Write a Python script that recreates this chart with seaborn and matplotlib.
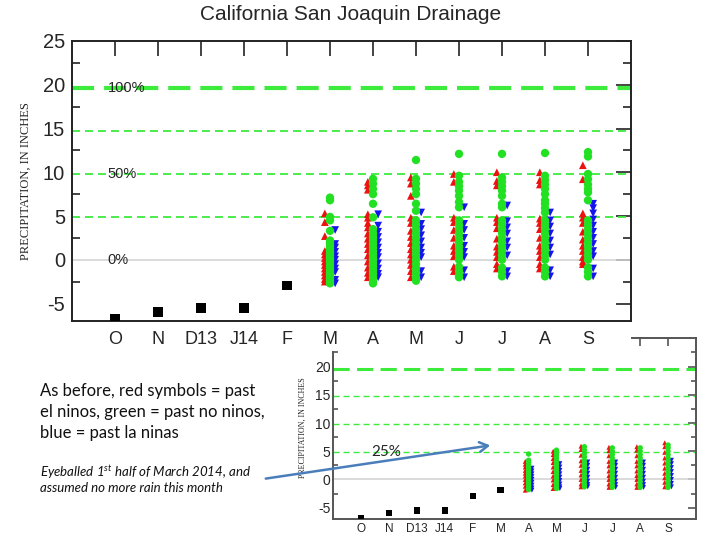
import matplotlib
matplotlib.use("Agg")
import matplotlib.pyplot as plt
import numpy as np
import pandas as pd
import seaborn as sns
from matplotlib.patches import FancyArrowPatch
from matplotlib.ticker import MultipleLocator, FixedLocator

# ---------------- data ----------------
months = ["O", "N", "D13", "J14", "F", "M", "A", "M", "J", "J", "A", "S"]
pct_levels = [19.6, 14.7, 9.8, 4.9]

main_obs = [-6.8, -5.95, -5.5, -5.5, -2.95]
inset_obs = [-6.8, -5.95, -5.5, -5.5, -2.95, -1.9]

main_start = 5  # first projected month (M)
main_green = [
    [7.1, 6.8, 4.9, 4.5, 3.3, 2.2, 1.9, 1.6, 1.3, 1.0, 0.8, 0.5, 0.2, 0.0, -0.3, -0.6, -0.9, -1.2, -1.5, -1.8, -2.1, -2.4, -2.7],
    [9.25, 8.7, 8.1, 7.5, 6.4, 4.85, 3.5, 3.0, 2.6, 2.2, 1.8, 1.4, 1.0, 0.6, 0.3, 0.0, -0.4, -0.8, -1.2, -1.6, -2.0, -2.4, -2.7],
    [11.4, 9.25, 8.7, 8.1, 7.5, 6.4, 5.6, 4.5, 4.0, 3.5, 3.0, 2.5, 2.0, 1.5, 1.0, 0.5, 0.0, -0.5, -1.0, -1.5, -2.0, -2.4],
    [12.1, 9.6, 8.9, 8.4, 7.9, 7.3, 6.6, 6.0, 4.5, 4.0, 3.5, 3.0, 2.5, 2.0, 1.5, 1.0, 0.5, 0.0, -0.8, -1.3, -1.8, -2.0],
    [12.1, 9.4, 8.9, 8.4, 7.9, 7.3, 6.4, 6.0, 4.5, 4.0, 3.5, 3.0, 2.5, 2.0, 1.5, 1.0, 0.5, 0.0, -0.9, -1.4, -1.9],
    [12.2, 9.6, 9.1, 8.6, 8.1, 7.5, 6.8, 6.4, 5.9, 5.4, 4.5, 4.0, 3.5, 3.0, 2.5, 2.0, 1.5, 1.0, 0.5, 0.0, -0.9, -1.4, -1.9],
    [12.3, 11.8, 9.8, 9.2, 8.6, 8.1, 7.7, 6.8, 4.5, 4.0, 3.5, 3.0, 2.5, 2.0, 1.5, 1.0, 0.5, 0.0, -0.9, -1.4, -1.9],
]
main_red = [
    [5.3, 4.3, 2.7, 1.0, 0.6, 0.2, -0.2, -0.6, -1.0, -1.4, -1.8, -2.2, -2.5],
    [8.9, 8.5, 8.0, 5.2, 4.8, 4.2, 3.7, 3.0, 2.4, 1.8, 1.2, 0.5, -0.2, -0.9, -1.5, -2.0],
    [9.4, 8.7, 7.3, 4.8, 4.2, 3.3, 2.6, 1.9, 1.2, 0.6, 0.0, -0.6, -1.3, -2.0],
    [9.8, 8.9, 4.8, 4.3, 3.4, 2.5, 1.6, 1.0, 0.4, -0.8, -1.3],
    [10.0, 9.0, 8.5, 4.8, 4.3, 3.6, 2.4, 1.5, 0.9, 0.3, -0.5, -1.0],
    [10.0, 9.1, 8.6, 4.7, 4.2, 3.5, 2.5, 1.6, 1.0, 0.3, -0.5, -1.0],
    [10.8, 9.2, 5.3, 4.8, 4.2, 3.2, 2.3, 1.6, 1.0, 0.3, -0.2, -0.5],
]
main_blue = [
    [3.4, 1.8, 1.4, 0.9, 0.4, 0.0, -0.5, -1.0, -1.4, -2.3, -2.7],
    [5.2, 3.9, 3.2, 2.6, 2.0, 1.4, 0.8, 0.3, -0.4, -1.0, -1.6, -2.0],
    [5.4, 4.1, 3.5, 2.8, 2.1, 1.4, 0.8, 0.3, -1.3, -2.0],
    [6.0, 4.1, 3.4, 2.5, 1.6, 0.9, 0.3, -1.2, -2.0],
    [6.2, 4.4, 3.7, 3.0, 2.1, 1.4, 0.5, -1.3, -1.9],
    [5.4, 4.5, 3.8, 3.0, 2.2, 1.4, 0.6, -1.2, -1.9],
    [6.4, 5.9, 5.3, 4.6, 3.9, 3.2, 2.5, 1.8, 1.0, 0.4, -1.0, -1.9],
]

inset_start = 6  # first projected month (A)
inset_green = [
    [4.5, 3.4, 3.0, 2.6, 2.2, 1.8, 1.4, 1.0, 0.6, 0.2, -0.2, -0.6, -1.0, -1.4, -1.8],
    [5.2, 4.8, 4.3, 3.8, 3.3, 2.8, 2.3, 1.8, 1.3, 0.8, 0.3, -0.2, -0.7, -1.2, -1.6],
    [5.8, 5.2, 4.6, 4.0, 3.4, 2.8, 2.2, 1.6, 1.0, 0.4, -0.2, -0.8, -1.3],
    [5.6, 5.0, 4.4, 3.8, 3.2, 2.6, 2.0, 1.4, 0.8, 0.2, -0.4, -1.0, -1.4],
    [5.6, 5.0, 4.4, 3.8, 3.2, 2.6, 2.0, 1.4, 0.8, 0.2, -0.4, -1.0, -1.4],
    [6.1, 5.6, 5.0, 4.4, 3.8, 3.2, 2.6, 2.0, 1.4, 0.8, 0.2, -0.4, -1.0, -1.4],
]
inset_red = [
    [3.2, 2.7, 2.2, 1.6, 1.1, 0.6, 0.0, -0.6, -1.2, -1.9],
    [5.0, 4.4, 3.7, 3.0, 2.2, 1.4, 0.6, -0.1, -0.9, -1.6],
    [5.9, 5.3, 4.3, 3.3, 2.5, 1.6, 0.8, 0.0, -0.8, -1.3],
    [5.7, 5.1, 4.2, 3.2, 2.4, 1.5, 0.7, 0.0, -0.8, -1.4],
    [5.8, 5.2, 4.2, 3.2, 2.4, 1.5, 0.7, 0.0, -0.8, -1.4],
    [6.5, 5.8, 4.8, 3.8, 2.9, 2.0, 1.1, 0.3, -0.5, -1.3],
]
inset_blue = [
    [2.0, 1.5, 1.0, 0.5, 0.0, -0.5, -1.0, -1.5, -1.9],
    [2.8, 2.2, 1.6, 1.0, 0.4, -0.2, -0.8, -1.3, -1.6],
    [3.1, 2.5, 1.8, 1.1, 0.4, -0.3, -0.9, -1.3],
    [3.1, 2.5, 1.8, 1.1, 0.4, -0.3, -0.9, -1.4],
    [3.1, 2.5, 1.8, 1.1, 0.4, -0.3, -0.9, -1.4],
    [3.4, 2.8, 2.1, 1.4, 0.7, 0.0, -0.7, -1.3],
]

# ---------------- style ----------------
sns.set_style("white")
plt.rcParams["font.family"] = ["Liberation Sans", "DejaVu Sans"]
plt.rcParams["axes.unicode_minus"] = False
plt.rcParams["mathtext.fontset"] = "custom"
plt.rcParams["mathtext.it"] = "Lato:italic"
plt.rcParams["mathtext.rm"] = "Lato:italic"

GREEN = "#22e022"
RED = "#ee1111"
BLUE = "#1414ee"
LINE_G = "#3ceb3c"


def long_df(groups, start):
    rows = []
    for name, lists in groups:
        for i, vals in enumerate(lists):
            for v in vals:
                rows.append((start + i, v, name))
    return pd.DataFrame(rows, columns=["m", "v", "group"])


def draw_panel(ax, obs, df, sq_size, pt_size, dash_lw, thin_lw, tick_major, tick_minor,
               xfs, yfs, spine_color):
    ax.set_xlim(-1, 12)
    ax.set_ylim(-7, 25)
    ax.axhline(0, color="#d4d4d4", lw=1.2, zorder=1)
    for k, lvl in enumerate(pct_levels):
        if k == 0:
            ax.axhline(lvl, color=LINE_G, lw=dash_lw, dashes=(5.3, 2.4), zorder=1)
        else:
            ax.axhline(lvl, color=LINE_G, lw=thin_lw, dashes=(4.4, 2.8), zorder=1)
    obs_df = pd.DataFrame({"m": np.arange(len(obs)), "v": obs})
    sns.scatterplot(data=obs_df, x="m", y="v", marker="s", color="black", s=sq_size,
                    edgecolor="none", ax=ax, zorder=3, legend=False)
    specs = [("red", "^", RED, -0.12, 0.85), ("blue", "v", BLUE, 0.12, 0.85), ("green", "o", GREEN, 0.0, 1.0)]
    for name, mk, col, off, sc in specs:
        sub = df[df.group == name]
        sns.scatterplot(x=sub.m + off, y=sub.v, marker=mk, color=col, s=pt_size * sc,
                        edgecolor="none", ax=ax, zorder=3, legend=False)
    ax.set_xlabel("")
    ax.set_ylabel("")
    ax.xaxis.set_major_locator(FixedLocator(range(12)))
    ax.set_xticklabels(months)
    ax.tick_params(axis="both", which="major", direction="in", length=tick_major, width=1.2,
                   top=True, right=True, color=spine_color)
    ax.tick_params(axis="y", which="minor", direction="in", length=tick_minor, width=1.2,
                   left=True, right=True, color=spine_color)
    ax.tick_params(axis="x", labelsize=xfs)
    ax.tick_params(axis="y", labelsize=yfs)
    for s in ax.spines.values():
        s.set_color(spine_color)
        s.set_linewidth(1.4)


fig = plt.figure(figsize=(7.2, 5.4), dpi=100)
W, H = 720.0, 540.0

# ---- inset (the pasted smaller chart, partly covered by the main chart image) ----
ax2 = fig.add_axes([333.3 / W, 1 - 519 / H, (696 - 333.3) / W, (519 - 338.3) / H])
df2 = long_df([("red", inset_red), ("blue", inset_blue), ("green", inset_green)], inset_start)
draw_panel(ax2, inset_obs, df2, sq_size=22, pt_size=15, dash_lw=2.2, thin_lw=1.0,
           tick_major=6, tick_minor=3.5, xfs=8.5, yfs=10, spine_color="#555555")
ax2.yaxis.set_major_locator(FixedLocator([-5, 0, 5, 10, 15, 20]))
ax2.yaxis.set_minor_locator(FixedLocator([-2.5, 2.5, 7.5, 12.5, 17.5, 22.5]))
ax2.tick_params(axis="y", which="major", pad=2)
ax2.tick_params(axis="x", which="major", pad=3)
# only the part right of the main chart image remains visible at the top
ax2.spines["top"].set_bounds(9.7, 12)
ax2.spines["left"].set_bounds(-7, 22.5)
fig.canvas.draw()
for i, t in enumerate(ax2.xaxis.get_major_ticks()):
    t.tick2line.set_visible(i >= 10)
ax2.text(0.37, 4.85, "25%", fontsize=11, family=["Lato", "DejaVu Sans"], ha="left", va="center", zorder=4)

# ---- main chart ----
ax1 = fig.add_axes([72 / W, 1 - 321 / H, (631 - 72) / W, (321 - 41) / H])
df1 = long_df([("red", main_red), ("blue", main_blue), ("green", main_green)], main_start)
draw_panel(ax1, main_obs, df1, sq_size=48, pt_size=36, dash_lw=3.0, thin_lw=1.3,
           tick_major=11, tick_minor=5.5, xfs=13, yfs=14.5, spine_color="#222222")
ax1.yaxis.set_major_locator(MultipleLocator(5))
ax1.yaxis.set_minor_locator(MultipleLocator(2.5))
ax1.tick_params(axis="y", which="major", pad=5)
ax1.tick_params(axis="x", which="major", pad=7)
for lbl, lvl in [("100%", pct_levels[0]), ("50%", pct_levels[2]), ("0%", 0.0)]:
    ax1.text(-0.17, lvl, lbl, fontsize=10.5, ha="left", va="center", zorder=4)

# titles and labels
fig.text(351 / W, 1 - 15 / H, "California San Joaquin Drainage", fontsize=15, ha="center", va="center")
fig.text(26 / W, 1 - 181 / H, "PRECIPITATION, IN INCHES", rotation=90, ha="center", va="center",
         fontsize=9, family=["Liberation Serif", "DejaVu Serif"], zorder=3)
fig.text(302.5 / W, 1 - 428 / H, "PRECIPITATION, IN INCHES", rotation=90, ha="center", va="center",
         fontsize=5.8, family=["Liberation Serif", "DejaVu Serif"], zorder=3)

# annotation text
note_lines = ["As before, red symbols = past", "el ninos, green = past no ninos,", "blue = past la ninas"]
for i, t in enumerate(note_lines):
    fig.text(40 / W, 1 - (395.7 + 21 * i) / H, t, fontsize=12, family=["Lato", "DejaVu Sans"],
             ha="left", va="baseline", color="#111111", zorder=3)
ital_lines = [r"Eyeballed 1$^{st}$ half of March 2014, and", "assumed no more rain this month"]
for i, t in enumerate(ital_lines):
    fig.text(40 / W, 1 - (476.7 + 15 * i) / H, t, fontsize=9.5, family=["Lato", "DejaVu Sans"],
             style="italic", ha="left", va="baseline", color="#111111", zorder=3)

# arrow
fig.add_artist(FancyArrowPatch((263 / W, 1 - 479 / H), (493 / W, 1 - 445 / H), transform=fig.transFigure,
                               arrowstyle="->,head_length=6,head_width=3.5", mutation_scale=1,
                               color="#4a7ebb", lw=1.8, zorder=5))

fig.savefig("out.png", dpi=100)
